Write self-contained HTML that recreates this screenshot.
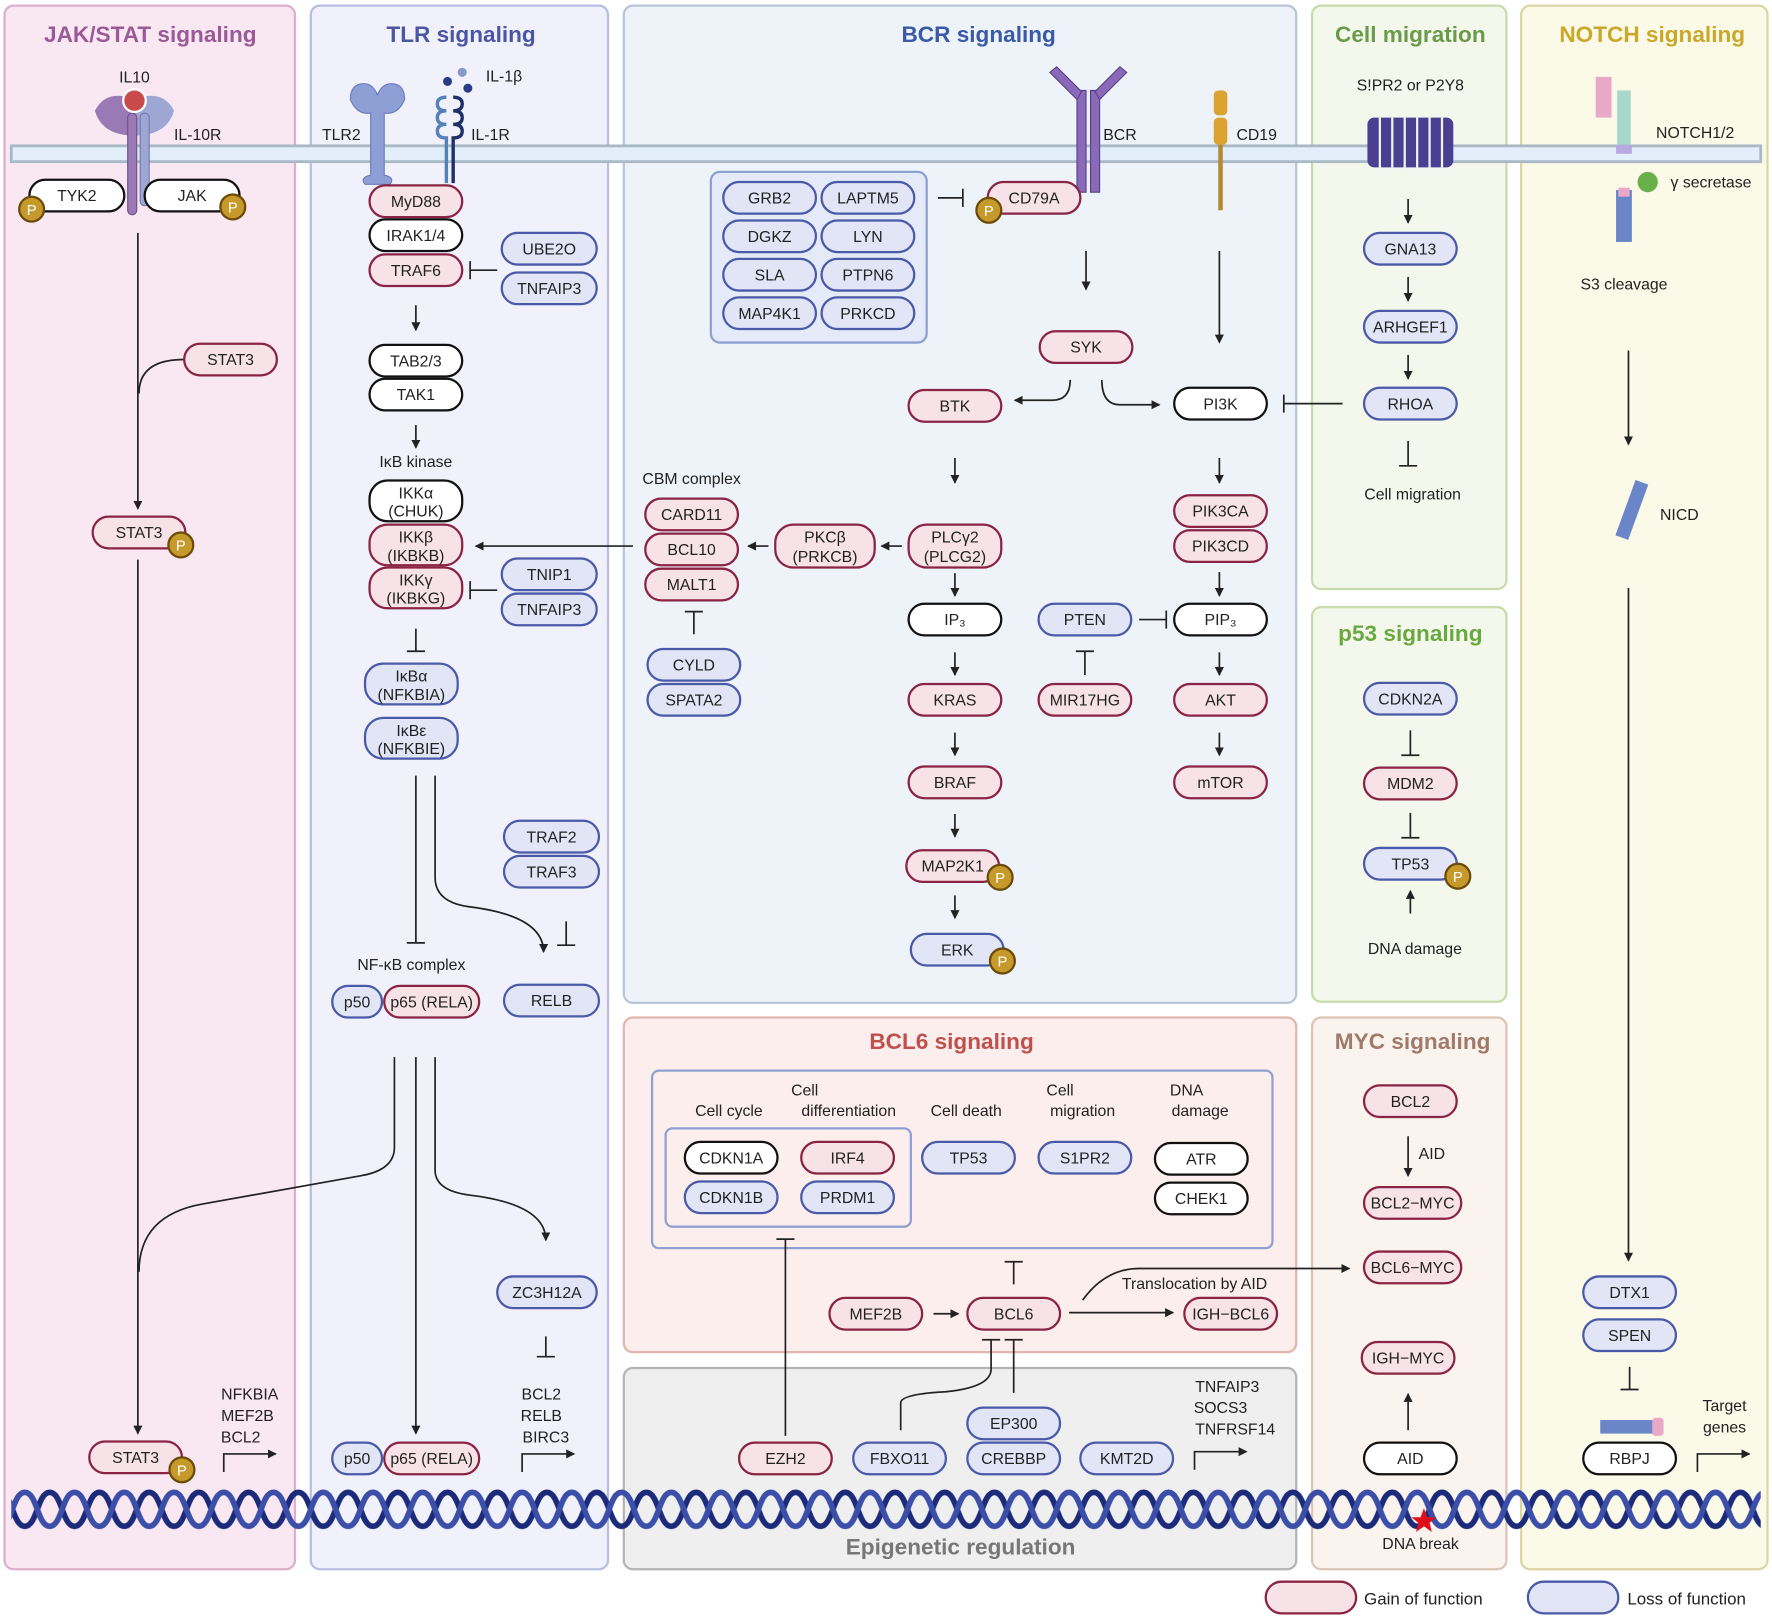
<!DOCTYPE html>
<html><head><meta charset="utf-8"><style>
html,body{margin:0;padding:0;background:#fff}
svg{display:block}
text{font-family:"Liberation Sans",sans-serif;fill:#222}
.t{font-size:14px;text-anchor:middle}
.h{font-size:20px;font-weight:bold;text-anchor:middle}
.g{fill:#f6e2e7;stroke:#8a2444;stroke-width:2}
.l{fill:#e1e5f6;stroke:#4a5aa8;stroke-width:2}
.n{fill:#fff;stroke:#111;stroke-width:2}
.a{stroke:#222;stroke-width:1.5;fill:none;marker-end:url(#ar)}
.i{stroke:#222;stroke-width:1.5;fill:none}
.pc{fill:#c69a2a;stroke:#6b4a0a;stroke-width:2}
.pt{font-size:13px;fill:#fff;text-anchor:middle}
</style></head><body>
<svg width="1772" height="1619" viewBox="0 0 1568 1432" preserveAspectRatio="none" xmlns="http://www.w3.org/2000/svg">
<defs>
<marker id="ar" markerWidth="8" markerHeight="8" refX="7" refY="4" orient="auto" markerUnits="userSpaceOnUse"><path d="M0,0 L8,4 L0,8 z" fill="#222"/></marker>
<pattern id="dna" x="0" y="1310" width="44" height="50" patternUnits="userSpaceOnUse">
<path d="M0,10 C11,10 11,40 22,40 C33,40 33,10 44,10" stroke="#1c2a7a" stroke-width="5" fill="none"/>
<path d="M0,40 C11,40 11,10 22,10 C33,10 33,40 44,40" stroke="#3b4ea8" stroke-width="5" fill="none"/>
</pattern>
</defs>
<!-- panels -->
<rect x="4" y="5" width="257" height="1383" rx="8" fill="#f9e8f2" stroke="#dcb0cc" stroke-width="2"/>
<rect x="275" y="5" width="263" height="1383" rx="8" fill="#f1f1fb" stroke="#b9bde2" stroke-width="2"/>
<rect x="552" y="5" width="595" height="882" rx="8" fill="#eef2f9" stroke="#b8c6dc" stroke-width="2"/>
<rect x="1161" y="5" width="172" height="516" rx="8" fill="#f4f8ec" stroke="#c8dbaa" stroke-width="2"/>
<rect x="1346" y="5" width="218" height="1383" rx="8" fill="#fbf9e7" stroke="#ddd6a2" stroke-width="2"/>
<rect x="1161" y="537" width="172" height="349" rx="8" fill="#f4f8ec" stroke="#c8dbaa" stroke-width="2"/>
<rect x="552" y="900" width="595" height="296" rx="8" fill="#fbeeec" stroke="#e2b6b0" stroke-width="2"/>
<rect x="552" y="1210" width="595" height="178" rx="8" fill="#efefef" stroke="#b4b4b4" stroke-width="2"/>
<rect x="1161" y="900" width="172" height="488" rx="8" fill="#fbf3ee" stroke="#dcc4b6" stroke-width="2"/>
<text class="h" x="133" y="37" style="fill:#9b5a97">JAK/STAT signaling</text>
<text class="h" x="408" y="37" style="fill:#4b56a3">TLR signaling</text>
<text class="h" x="866" y="37" style="fill:#3a5aa8">BCR signaling</text>
<text class="h" x="1248" y="37" style="fill:#6a9a4a">Cell migration</text>
<text class="h" x="1462" y="37" style="fill:#c9a82a">NOTCH signaling</text>
<text class="h" x="1248" y="567" style="fill:#6aa840">p53 signaling</text>
<text class="h" x="842" y="928" style="fill:#c0504d">BCL6 signaling</text>
<text class="h" x="1250" y="928" style="fill:#a07a6a">MYC signaling</text>
<text class="h" x="850" y="1375" style="fill:#777">Epigenetic regulation</text>
<!-- membrane -->
<rect x="10" y="129" width="1548" height="14" fill="#e2eefa" stroke="#a9b9c6" stroke-width="2.5"/>
<!-- DNA -->
<rect x="10" y="1312" width="1548" height="46" fill="url(#dna)"/>
<path d="M1260,1334 l3,8 l8,0 l-6,5 l2,8 l-7,-5 l-7,5 l2,-8 l-6,-5 l8,0z" fill="#e0101a"/>
<!-- receptors -->
<path d="M84,98 q10,-20 36,-10 l0,32 q-30,0 -36,-22z" fill="#9a79b5"/>
<path d="M154,98 q-10,-20 -36,-10 l0,32 q30,0 36,-22z" fill="#9ea6d4"/>
<rect x="113" y="100" width="8" height="90" rx="4" fill="#9a79b5" stroke="#6e4f8e"/>
<rect x="124" y="100" width="8" height="82" rx="4" fill="#9ea6d4" stroke="#6f78b0"/>
<circle cx="119" cy="89" r="10" fill="#c94a4a" stroke="#fff" stroke-width="2"/>
<text class="t" x="119" y="73">IL10</text><text class="t" x="175" y="124">IL-10R</text>
<path d="M310,88 q0,-14 12,-14 q8,0 12,10 q4,-10 12,-10 q12,0 12,14 q-6,14 -18,12 l0,55 q10,2 5,8 l-22,0 q-5,-6 5,-8 l0,-55 q-12,2 -18,-12z" fill="#8e9fd6" stroke="#6a7cbc"/>
<text class="t" x="302" y="124">TLR2</text>
<g stroke="#5580b8" stroke-width="3" fill="none"><path d="M395,86 q-8,0 -8,6 q0,6 8,6 q-8,0 -8,6 q0,6 8,6 q-8,0 -8,6 q0,6 8,6 l0,40"/></g>
<g stroke="#1f2f6a" stroke-width="3" fill="none"><path d="M401,86 q8,0 8,6 q0,6 -8,6 q8,0 8,6 q0,6 -8,6 q8,0 8,6 q0,6 -8,6 l0,40"/></g>
<circle cx="396" cy="72" r="4" fill="#2b3c86"/><circle cx="409" cy="64" r="4" fill="#8a98c6"/><circle cx="414" cy="78" r="4" fill="#2b3c86"/>
<text class="t" x="446" y="72">IL-1β</text><text class="t" x="434" y="124">IL-1R</text>
<g fill="#8a6ab8" stroke="#5a3f8a"><rect x="953" y="80" width="8" height="90"/><rect x="965" y="80" width="8" height="90"/><path d="M953,88 l-24,-24 l6,-5 l22,22z"/><path d="M973,88 l24,-24 l-6,-5 l-22,22z"/></g>
<text class="t" x="991" y="124">BCR</text>
<rect x="1074" y="80" width="12" height="22" rx="4" fill="#dba431"/><rect x="1074" y="104" width="12" height="24" rx="4" fill="#dba431"/><rect x="1078" y="128" width="4" height="58" fill="#b38a2f"/>
<text class="t" x="1112" y="124">CD19</text>
<g fill="#4b3f92"><rect x="1210" y="104" width="76" height="44" rx="6"/></g>
<g stroke="#eef2f9" stroke-width="2"><line x1="1221" y1="104" x2="1221" y2="150"/><line x1="1232" y1="104" x2="1232" y2="150"/><line x1="1243" y1="104" x2="1243" y2="150"/><line x1="1254" y1="104" x2="1254" y2="150"/><line x1="1265" y1="104" x2="1265" y2="150"/><line x1="1276" y1="104" x2="1276" y2="150"/></g>
<text class="t" x="1248" y="80">S!PR2 or P2Y8</text>
<g><rect x="1412" y="68" width="14" height="36" fill="#e8a8c8"/><rect x="1431" y="80" width="12" height="48" fill="#a8d8cc"/><rect x="1430" y="128" width="14" height="8" fill="#b8a8e0"/><rect x="1430" y="168" width="14" height="46" fill="#6a86c8"/><rect x="1432" y="166" width="10" height="8" fill="#e8a8c8"/></g>
<text class="t" x="1500" y="122">NOTCH1/2</text>
<circle cx="1458" cy="161" r="9" fill="#6ab04a"/><text class="t" x="1514" y="166">γ secretase</text>
<text class="t" x="1437" y="256">S3 cleavage</text>
<rect x="1438" y="425" width="12" height="52" fill="#6a86c8" transform="rotate(20 1444 451)"/>
<text class="t" x="1486" y="460">NICD</text>
<rect x="1416" y="1256" width="56" height="12" fill="#6a86c8"/><rect x="1462" y="1254" width="10" height="16" rx="3" fill="#e8a8c8"/>
<!-- JAK/STAT nodes -->
<rect class="n" x="26" y="159" width="84" height="28" rx="14"/><text class="t" x="68" y="178">TYK2</text>
<rect class="n" x="128" y="159" width="84" height="28" rx="14"/><text class="t" x="170" y="178">JAK</text>
<circle class="pc" cx="28" cy="185" r="11"/><text class="pt" x="28" y="190">P</text>
<circle class="pc" cx="206" cy="183" r="11"/><text class="pt" x="206" y="188">P</text>
<line class="a" x1="122" y1="206" x2="122" y2="450"/>
<path class="i" d="M163,318 q-40,0 -40,30"/>
<rect class="g" x="163" y="304" width="82" height="28" rx="14"/><text class="t" x="204" y="323">STAT3</text>
<rect class="g" x="82" y="457" width="82" height="28" rx="14"/><text class="t" x="123" y="476">STAT3</text>
<circle class="pc" cx="160" cy="482" r="11"/><text class="pt" x="160" y="487">P</text>
<line class="a" x1="122" y1="495" x2="122" y2="1268"/>
<path class="i" d="M349,935 l0,80 q0,20 -30,25 l-140,25 q-56,10 -56,60"/>
<rect class="g" x="79" y="1275" width="82" height="28" rx="14"/><text class="t" x="120" y="1294">STAT3</text>
<circle class="pc" cx="161" cy="1300" r="11"/><text class="pt" x="161" y="1305">P</text>
<text class="t" x="221" y="1238">NFKBIA</text><text class="t" x="219" y="1257">MEF2B</text><text class="t" x="213" y="1276">BCL2</text>
<path class="a" d="M198,1302 l0,-16 l46,0"/>
<!-- TLR nodes -->
<rect class="g" x="327" y="164" width="82" height="28" rx="14"/><text class="t" x="368" y="183">MyD88</text>
<rect class="n" x="327" y="194" width="82" height="28" rx="14"/><text class="t" x="368" y="213">IRAK1/4</text>
<rect class="g" x="327" y="225" width="82" height="28" rx="14"/><text class="t" x="368" y="244">TRAF6</text>
<rect class="l" x="444" y="206" width="84" height="28" rx="14"/><text class="t" x="486" y="225">UBE2O</text>
<rect class="l" x="444" y="241" width="84" height="28" rx="14"/><text class="t" x="486" y="260">TNFAIP3</text>
<path class="i" d="M440,239 l-24,0 M416,231 l0,16"/>
<line class="a" x1="368" y1="270" x2="368" y2="292"/>
<rect class="n" x="327" y="305" width="82" height="28" rx="14"/><text class="t" x="368" y="324">TAB2/3</text>
<rect class="n" x="327" y="335" width="82" height="28" rx="14"/><text class="t" x="368" y="354">TAK1</text>
<line class="a" x1="368" y1="376" x2="368" y2="396"/>
<text class="t" x="368" y="413">IκB kinase</text>
<rect class="n" x="327" y="425" width="82" height="36" rx="16"/><text class="t" x="368" y="441">IKKα</text><text class="t" x="368" y="457">(CHUK)</text>
<rect class="g" x="327" y="464" width="82" height="36" rx="16"/><text class="t" x="368" y="480">IKKβ</text><text class="t" x="368" y="496">(IKBKB)</text>
<rect class="g" x="327" y="502" width="82" height="36" rx="16"/><text class="t" x="368" y="518">IKKγ</text><text class="t" x="368" y="534">(IKBKG)</text>
<rect class="l" x="444" y="494" width="84" height="28" rx="14"/><text class="t" x="486" y="513">TNIP1</text>
<rect class="l" x="444" y="525" width="84" height="28" rx="14"/><text class="t" x="486" y="544">TNFAIP3</text>
<path class="i" d="M440,522 l-24,0 M416,514 l0,16"/>
<path class="i" d="M368,556 l0,20 M360,576 l16,0"/>
<rect class="l" x="323" y="587" width="82" height="36" rx="16"/><text class="t" x="364" y="603">IκBα</text><text class="t" x="364" y="619">(NFKBIA)</text>
<rect class="l" x="323" y="635" width="82" height="36" rx="16"/><text class="t" x="364" y="651">IκBε</text><text class="t" x="364" y="667">(NFKBIE)</text>
<path class="i" d="M368,686 l0,148 M360,834 l16,0"/>
<path class="a" d="M385,686 l0,90 q0,22 30,26 q66,8 66,40"/>
<rect class="l" x="446" y="726" width="84" height="28" rx="14"/><text class="t" x="488" y="745">TRAF2</text>
<rect class="l" x="446" y="757" width="84" height="28" rx="14"/><text class="t" x="488" y="776">TRAF3</text>
<path class="i" d="M501,815 l0,21 M493,836 l16,0"/>
<text class="t" x="364" y="858">NF-κB complex</text>
<rect class="l" x="294" y="872" width="44" height="28" rx="14"/><text class="t" x="316" y="891">p50</text>
<rect class="g" x="340" y="872" width="84" height="28" rx="14"/><text class="t" x="382" y="891">p65 (RELA)</text>
<rect class="l" x="446" y="871" width="84" height="28" rx="14"/><text class="t" x="488" y="890">RELB</text>
<line class="a" x1="368" y1="935" x2="368" y2="1268"/>
<path class="a" d="M385,935 l0,100 q0,18 30,22 q68,8 68,40"/>
<rect class="l" x="440" y="1129" width="88" height="28" rx="14"/><text class="t" x="484" y="1148">ZC3H12A</text>
<path class="i" d="M483,1182 l0,18 M475,1200 l16,0"/>
<text class="t" x="479" y="1238">BCL2</text><text class="t" x="479" y="1257">RELB</text><text class="t" x="483" y="1276">BIRC3</text>
<path class="a" d="M462,1302 l0,-16 l46,0"/>
<rect class="l" x="294" y="1276" width="44" height="28" rx="14"/><text class="t" x="316" y="1295">p50</text>
<rect class="g" x="340" y="1276" width="84" height="28" rx="14"/><text class="t" x="382" y="1295">p65 (RELA)</text>
<!-- BCR -->
<rect x="629" y="152" width="191" height="151" rx="8" fill="#e4eaf8" stroke="#8fa0d2" stroke-width="2"/>
<rect class="l" x="640" y="161" width="82" height="28" rx="14"/><text class="t" x="681" y="180">GRB2</text>
<rect class="l" x="727" y="161" width="82" height="28" rx="14"/><text class="t" x="768" y="180">LAPTM5</text>
<rect class="l" x="640" y="195" width="82" height="28" rx="14"/><text class="t" x="681" y="214">DGKZ</text>
<rect class="l" x="727" y="195" width="82" height="28" rx="14"/><text class="t" x="768" y="214">LYN</text>
<rect class="l" x="640" y="229" width="82" height="28" rx="14"/><text class="t" x="681" y="248">SLA</text>
<rect class="l" x="727" y="229" width="82" height="28" rx="14"/><text class="t" x="768" y="248">PTPN6</text>
<rect class="l" x="640" y="263" width="82" height="28" rx="14"/><text class="t" x="681" y="282">MAP4K1</text>
<rect class="l" x="727" y="263" width="82" height="28" rx="14"/><text class="t" x="768" y="282">PRKCD</text>
<path class="i" d="M830,175 l22,0 M852,167 l0,16"/>
<rect class="g" x="874" y="161" width="82" height="28" rx="14"/><text class="t" x="915" y="180">CD79A</text>
<circle class="pc" cx="875" cy="186" r="11"/><text class="pt" x="875" y="191">P</text>
<line class="a" x1="961" y1="222" x2="961" y2="256"/>
<line class="a" x1="1079" y1="222" x2="1079" y2="303"/>
<rect class="g" x="920" y="293" width="82" height="28" rx="14"/><text class="t" x="961" y="312">SYK</text>
<path class="a" d="M947,336 q0,18 -16,18 l-33,0"/>
<path class="a" d="M975,336 q0,22 16,22 l35,0"/>
<rect class="g" x="804" y="345" width="82" height="28" rx="14"/><text class="t" x="845" y="364">BTK</text>
<rect class="n" x="1039" y="343" width="82" height="28" rx="14"/><text class="t" x="1080" y="362">PI3K</text>
<path class="i" d="M1188,357 l-52,0 M1136,349 l0,16"/>
<line class="a" x1="845" y1="405" x2="845" y2="427"/>
<line class="a" x1="1079" y1="405" x2="1079" y2="427"/>
<rect class="g" x="1039" y="438" width="82" height="28" rx="14"/><text class="t" x="1080" y="457">PIK3CA</text>
<rect class="g" x="1039" y="469" width="82" height="28" rx="14"/><text class="t" x="1080" y="488">PIK3CD</text>
<rect class="g" x="804" y="464" width="82" height="38" rx="16"/><text class="t" x="845" y="480">PLCγ2</text><text class="t" x="845" y="497">(PLCG2)</text>
<rect class="g" x="686" y="464" width="88" height="38" rx="16"/><text class="t" x="730" y="480">PKCβ</text><text class="t" x="730" y="497">(PRKCB)</text>
<line class="a" x1="798" y1="483" x2="780" y2="483"/>
<line class="a" x1="680" y1="483" x2="662" y2="483"/>
<line class="a" x1="560" y1="483" x2="421" y2="483"/>
<text class="t" x="612" y="428">CBM complex</text>
<rect class="g" x="571" y="441" width="82" height="28" rx="14"/><text class="t" x="612" y="460">CARD11</text>
<rect class="g" x="571" y="472" width="82" height="28" rx="14"/><text class="t" x="612" y="491">BCL10</text>
<rect class="g" x="571" y="503" width="82" height="28" rx="14"/><text class="t" x="612" y="522">MALT1</text>
<path class="i" d="M614,561 l0,-20 M606,541 l16,0"/>
<rect class="l" x="573" y="574" width="82" height="28" rx="14"/><text class="t" x="614" y="593">CYLD</text>
<rect class="l" x="573" y="605" width="82" height="28" rx="14"/><text class="t" x="614" y="624">SPATA2</text>
<line class="a" x1="845" y1="507" x2="845" y2="527"/>
<rect class="n" x="804" y="534" width="82" height="28" rx="14"/><text class="t" x="845" y="553">IP₃</text>
<rect class="l" x="919" y="534" width="82" height="28" rx="14"/><text class="t" x="960" y="553">PTEN</text>
<rect class="n" x="1039" y="534" width="82" height="28" rx="14"/><text class="t" x="1080" y="553">PIP₃</text>
<path class="i" d="M1008,548 l24,0 M1032,540 l0,16"/>
<line class="a" x1="1079" y1="506" x2="1079" y2="527"/>
<path class="i" d="M960,597 l0,-21 M952,576 l16,0"/>
<line class="a" x1="845" y1="577" x2="845" y2="597"/>
<line class="a" x1="1079" y1="577" x2="1079" y2="597"/>
<rect class="g" x="804" y="605" width="82" height="28" rx="14"/><text class="t" x="845" y="624">KRAS</text>
<rect class="g" x="919" y="605" width="82" height="28" rx="14"/><text class="t" x="960" y="624">MIR17HG</text>
<rect class="g" x="1039" y="605" width="82" height="28" rx="14"/><text class="t" x="1080" y="624">AKT</text>
<line class="a" x1="845" y1="648" x2="845" y2="668"/>
<line class="a" x1="1079" y1="648" x2="1079" y2="668"/>
<rect class="g" x="804" y="678" width="82" height="28" rx="14"/><text class="t" x="845" y="697">BRAF</text>
<rect class="g" x="1039" y="678" width="82" height="28" rx="14"/><text class="t" x="1080" y="697">mTOR</text>
<line class="a" x1="845" y1="720" x2="845" y2="740"/>
<rect class="g" x="802" y="752" width="82" height="28" rx="14"/><text class="t" x="843" y="771">MAP2K1</text>
<circle class="pc" cx="885" cy="776" r="11"/><text class="pt" x="885" y="781">P</text>
<line class="a" x1="845" y1="792" x2="845" y2="812"/>
<rect class="l" x="806" y="826" width="82" height="28" rx="14"/><text class="t" x="847" y="845">ERK</text>
<circle class="pc" cx="887" cy="850" r="11"/><text class="pt" x="887" y="855">P</text>
<!-- Cell migration -->
<line class="a" x1="1246" y1="176" x2="1246" y2="197"/>
<rect class="l" x="1207" y="206" width="82" height="28" rx="14"/><text class="t" x="1248" y="225">GNA13</text>
<line class="a" x1="1246" y1="245" x2="1246" y2="266"/>
<rect class="l" x="1207" y="275" width="82" height="28" rx="14"/><text class="t" x="1248" y="294">ARHGEF1</text>
<line class="a" x1="1246" y1="314" x2="1246" y2="335"/>
<rect class="l" x="1207" y="343" width="82" height="28" rx="14"/><text class="t" x="1248" y="362">RHOA</text>
<path class="i" d="M1246,390 l0,22 M1238,412 l16,0"/>
<text class="t" x="1250" y="442">Cell migration</text>
<!-- p53 -->
<rect class="l" x="1207" y="604" width="82" height="28" rx="14"/><text class="t" x="1248" y="623">CDKN2A</text>
<path class="i" d="M1248,646 l0,22 M1240,668 l16,0"/>
<rect class="g" x="1207" y="679" width="82" height="28" rx="14"/><text class="t" x="1248" y="698">MDM2</text>
<path class="i" d="M1248,719 l0,22 M1240,741 l16,0"/>
<rect class="l" x="1207" y="750" width="82" height="28" rx="14"/><text class="t" x="1248" y="769">TP53</text>
<circle class="pc" cx="1290" cy="775" r="11"/><text class="pt" x="1290" y="780">P</text>
<line class="a" x1="1248" y1="808" x2="1248" y2="788"/>
<text class="t" x="1252" y="844">DNA damage</text>
<!-- NOTCH -->
<line class="a" x1="1441" y1="310" x2="1441" y2="393"/>
<line class="a" x1="1441" y1="520" x2="1441" y2="1115"/>
<rect class="l" x="1401" y="1129" width="82" height="28" rx="14"/><text class="t" x="1442" y="1148">DTX1</text>
<rect class="l" x="1401" y="1167" width="82" height="28" rx="14"/><text class="t" x="1442" y="1186">SPEN</text>
<path class="i" d="M1442,1209 l0,20 M1434,1229 l16,0"/>
<rect class="n" x="1401" y="1276" width="82" height="28" rx="14"/><text class="t" x="1442" y="1295">RBPJ</text>
<text class="t" x="1526" y="1248">Target</text><text class="t" x="1526" y="1267">genes</text>
<path class="a" d="M1502,1302 l0,-16 l46,0"/>
<!-- BCL6 -->
<rect x="577" y="947" width="549" height="157" rx="6" fill="#fbeeec" stroke="#8fa0d2" stroke-width="2"/>
<rect x="589" y="998" width="217" height="87" rx="6" fill="#fbeeec" stroke="#8fa0d2" stroke-width="2"/>
<text class="t" x="645" y="987">Cell cycle</text>
<text class="t" x="714" y="969" style="text-anchor:start" dx="-14">Cell</text><text class="t" x="751" y="987">differentiation</text>
<text class="t" x="855" y="987">Cell death</text>
<text class="t" x="938" y="969">Cell</text><text class="t" x="958" y="987">migration</text>
<text class="t" x="1050" y="969">DNA</text><text class="t" x="1062" y="987">damage</text>
<rect class="n" x="606" y="1010" width="82" height="28" rx="14"/><text class="t" x="647" y="1029">CDKN1A</text>
<rect class="g" x="709" y="1010" width="82" height="28" rx="14"/><text class="t" x="750" y="1029">IRF4</text>
<rect class="l" x="606" y="1045" width="82" height="28" rx="14"/><text class="t" x="647" y="1064">CDKN1B</text>
<rect class="l" x="709" y="1045" width="82" height="28" rx="14"/><text class="t" x="750" y="1064">PRDM1</text>
<rect class="l" x="816" y="1010" width="82" height="28" rx="14"/><text class="t" x="857" y="1029">TP53</text>
<rect class="l" x="919" y="1010" width="82" height="28" rx="14"/><text class="t" x="960" y="1029">S1PR2</text>
<rect class="n" x="1022" y="1011" width="82" height="28" rx="14"/><text class="t" x="1063" y="1030">ATR</text>
<rect class="n" x="1022" y="1046" width="82" height="28" rx="14"/><text class="t" x="1063" y="1065">CHEK1</text>
<path class="i" d="M897,1136 l0,-20 M889,1116 l16,0"/>
<rect class="g" x="734" y="1148" width="82" height="28" rx="14"/><text class="t" x="775" y="1167">MEF2B</text>
<line class="a" x1="826" y1="1162" x2="848" y2="1162"/>
<rect class="g" x="856" y="1148" width="82" height="28" rx="14"/><text class="t" x="897" y="1167">BCL6</text>
<line class="a" x1="946" y1="1161" x2="1038" y2="1161"/>
<path class="a" d="M958,1150 q20,-28 50,-28 l186,0"/>
<text class="t" x="1057" y="1140">Translocation by AID</text>
<rect class="g" x="1048" y="1148" width="82" height="28" rx="14"/><text class="t" x="1089" y="1167">IGH−BCL6</text>
<!-- Epigenetic -->
<path class="i" d="M695,1270 l0,-174 M687,1096 l16,0"/>
<rect class="g" x="654" y="1276" width="82" height="28" rx="14"/><text class="t" x="695" y="1295">EZH2</text>
<path class="i" d="M797,1265 l0,-24 q0,-8 40,-10 q40,-4 40,-20 l0,-26 M869,1185 l16,0"/>
<path class="i" d="M897,1232 l0,-47 M889,1185 l16,0"/>
<rect class="l" x="755" y="1276" width="82" height="28" rx="14"/><text class="t" x="796" y="1295">FBXO11</text>
<rect class="l" x="856" y="1245" width="82" height="28" rx="14"/><text class="t" x="897" y="1264">EP300</text>
<rect class="l" x="856" y="1276" width="82" height="28" rx="14"/><text class="t" x="897" y="1295">CREBBP</text>
<rect class="l" x="956" y="1276" width="82" height="28" rx="14"/><text class="t" x="997" y="1295">KMT2D</text>
<text class="t" x="1086" y="1231">TNFAIP3</text><text class="t" x="1080" y="1250">SOCS3</text><text class="t" x="1093" y="1269">TNFRSF14</text>
<path class="a" d="M1057,1300 l0,-16 l46,0"/>
<!-- MYC -->
<rect class="g" x="1207" y="960" width="82" height="28" rx="14"/><text class="t" x="1248" y="979">BCL2</text>
<line class="a" x1="1246" y1="1005" x2="1246" y2="1040"/>
<text class="t" x="1267" y="1025">AID</text>
<rect class="g" x="1207" y="1050" width="86" height="28" rx="14"/><text class="t" x="1250" y="1069">BCL2−MYC</text>
<rect class="g" x="1207" y="1107" width="86" height="28" rx="14"/><text class="t" x="1250" y="1126">BCL6−MYC</text>
<rect class="g" x="1205" y="1187" width="82" height="28" rx="14"/><text class="t" x="1246" y="1206">IGH−MYC</text>
<line class="a" x1="1246" y1="1265" x2="1246" y2="1233"/>
<rect class="n" x="1207" y="1276" width="82" height="28" rx="14"/><text class="t" x="1248" y="1295">AID</text>
<text class="t" x="1257" y="1370">DNA break</text>
<!-- legend -->
<rect class="g" x="1120" y="1399" width="80" height="28" rx="14"/><text x="1207" y="1419" style="font-size:15px">Gain of function</text>
<rect class="l" x="1352" y="1399" width="80" height="28" rx="14"/><text x="1440" y="1419" style="font-size:15px">Loss of function</text>
</svg>
</body></html>
